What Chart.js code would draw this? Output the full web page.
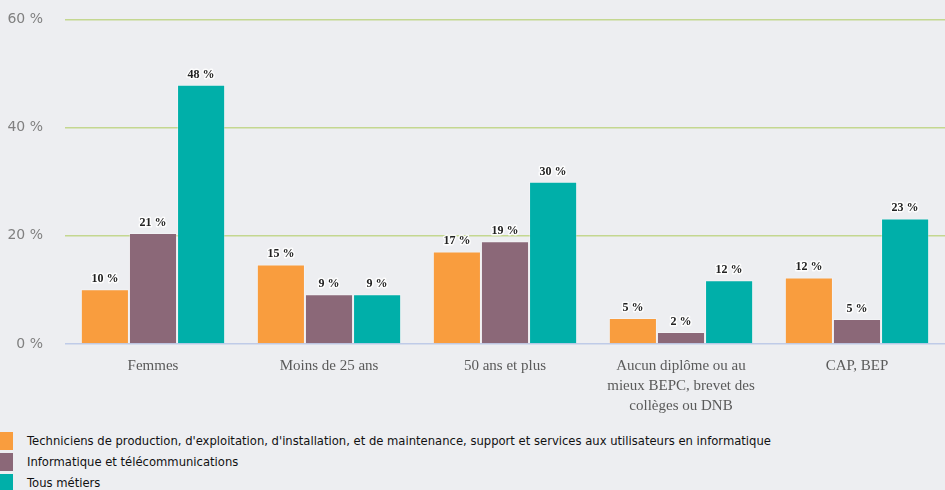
<!DOCTYPE html>
<html>
<head>
<meta charset="utf-8">
<script src="https://cdn.jsdelivr.net/npm/chart.js@4.4.1/dist/chart.umd.min.js"></script>
<style>
  html, body { margin: 0; padding: 0; background: #EDEEF1; width: 945px; height: 490px; overflow: hidden; }
  #wrap { position: absolute; left: 0; top: -11px; width: 945px; height: 436px; }
  #legend { position: absolute; left: 0; top: 432px; font-family: "DejaVu Sans", sans-serif; font-size: 11.6px; color: #111; }
  .item { height: 21px; position: relative; white-space: nowrap; }
  .box { position: absolute; left: 0; top: 0; width: 13px; height: 18px; }
  .txt { position: absolute; left: 27px; top: 2px; line-height: 14px; }
</style>
</head>
<body>
<div id="wrap"><canvas id="c" width="945" height="436"></canvas></div>
<div id="legend"></div>
<script>
const categories = [
  "Femmes",
  "Moins de 25 ans",
  "50 ans et plus",
  ["Aucun diplôme ou au", "mieux BEPC, brevet des", "collèges ou DNB"],
  "CAP, BEP"
];
const seriesNames = [
  "Techniciens de production, d'exploitation, d'installation, et de maintenance, support et services aux utilisateurs en informatique",
  "Informatique et télécommunications",
  "Tous métiers"
];
const techniciens = [10.1, 14.7, 17.1, 4.8, 12.3];
const informatique = [20.5, 9.2, 19.0, 2.2, 4.6];
const tousMetiers = [47.9, 9.2, 30.0, 11.8, 23.2];
const yTicks = [0, 20, 40, 60];
const colors = ["#F99D3E", "#8B6878", "#00AFA9"];

const labelPlugin = {
  id: 'barLabels',
  afterDatasetsDraw(chart) {
    const ctx = chart.ctx;
    ctx.save();
    ctx.font = "bold 12px 'Liberation Serif', serif";
    ctx.textAlign = 'center';
    ctx.textBaseline = 'alphabetic';
    chart.data.datasets.forEach((ds, i) => {
      const meta = chart.getDatasetMeta(i);
      meta.data.forEach((bar, j) => {
        const txt = Math.round(ds.data[j]) + ' %';
        ctx.lineWidth = 3;
        ctx.strokeStyle = 'rgba(255,255,255,0.85)';
        ctx.lineJoin = 'round';
        ctx.strokeText(txt, bar.x, bar.y - 7);
        ctx.fillStyle = '#222';
        ctx.fillText(txt, bar.x, bar.y - 7);
      });
    });
    ctx.restore();
  }
};

const dataArrays = [techniciens, informatique, tousMetiers];
new Chart(document.getElementById('c'), {
  type: 'bar',
  data: {
    labels: categories,
    datasets: seriesNames.map((n, i) => ({
      label: n,
      data: dataArrays[i],
      backgroundColor: colors[i],
      borderColor: 'rgba(255,255,255,0.3)',
      borderWidth: 1,
      categoryPercentage: 0.82,
      barPercentage: 1.0
    }))
  },
  options: {
    responsive: false,
    animation: false,
    devicePixelRatio: 1,
    layout: { padding: { top: 7, right: 0, left: 0, bottom: 0 } },
    plugins: { legend: { display: false }, tooltip: { enabled: false } },
    scales: {
      x: {
        grid: { display: false, drawTicks: false },
        border: { display: false },
        ticks: {
          color: '#5a5a5a',
          font: { family: "'Liberation Serif', serif", size: 15, lineHeight: 1.33 },
          padding: 12,
          maxRotation: 0,
          autoSkip: false
        },
        afterFit(s) { s.height = 81; }
      },
      y: {
        min: 0, max: 60,
        afterBuildTicks(s) { s.ticks = yTicks.map(v => ({ value: v })); },
        grid: {
          drawTicks: false,
          color: ctx => ctx.tick && ctx.tick.value === 0 ? '#BFCBE8' : '#C4D790',
          lineWidth: 1.5
        },
        border: { display: false },
        ticks: {
          color: '#808080',
          font: { family: "'DejaVu Sans', sans-serif", size: 14 },
          padding: 22,
          callback: v => v + ' %'
        },
        afterFit(s) { s.width = 65; }
      }
    }
  },
  plugins: [labelPlugin]
});

const lg = document.getElementById('legend');
seriesNames.forEach((n, i) => {
  const d = document.createElement('div');
  d.className = 'item';
  d.innerHTML = '<span class="box" style="background:' + colors[i] + '"></span><span class="txt"></span>';
  d.querySelector('.txt').textContent = n;
  lg.appendChild(d);
});
</script>
</body>
</html>
